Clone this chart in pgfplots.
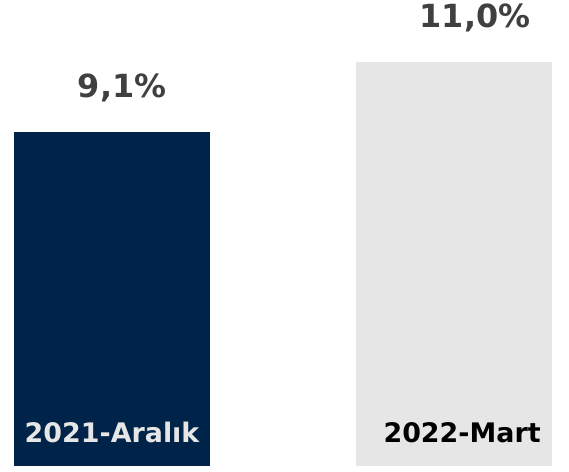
\documentclass[border=0pt]{standalone}
\usepackage{pgfplots}
\pgfplotsset{compat=1.18}
\usepackage{fontspec}
\setmainfont{DejaVu Sans}
\definecolor{navy}{HTML}{002349}
\definecolor{lightgray}{HTML}{E6E6E6}
\definecolor{valgray}{HTML}{404040}
\begin{document}
\begin{tikzpicture}
\begin{axis}[
  width=569bp, height=472bp, scale only axis,
  hide axis, clip=false,
  xmin=-0.3275, xmax=1.336,
  ymin=-0.163, ymax=12.687,
  ybar, bar width=196bp, bar shift=0pt,
  point meta=explicit symbolic,
  nodes near coords,
  every node near coord/.style={anchor=base, yshift=34bp,
    font=\fontsize{32}{32}\selectfont\bfseries, text=valgray},
]
\path (rel axis cs:0,0) rectangle (rel axis cs:1,1);
\addplot[fill=navy, draw=none, every node near coord/.append style={xshift=10bp}]
  coordinates {(0,9.1) [9,1\%]};
\addplot[fill=lightgray, draw=none, every node near coord/.append style={xshift=21bp}]
  coordinates {(1,11.0) [11,0\%]};
\node[anchor=base, text=lightgray, font=\fontsize{27}{27}\selectfont\bfseries, yshift=24bp]
  at (axis cs:0,0) {2021-Aralık};
\node[anchor=base, text=black, font=\fontsize{27}{27}\selectfont\bfseries, yshift=24bp, xshift=8bp]
  at (axis cs:1,0) {2022-Mart};
\end{axis}
\end{tikzpicture}
\end{document}
